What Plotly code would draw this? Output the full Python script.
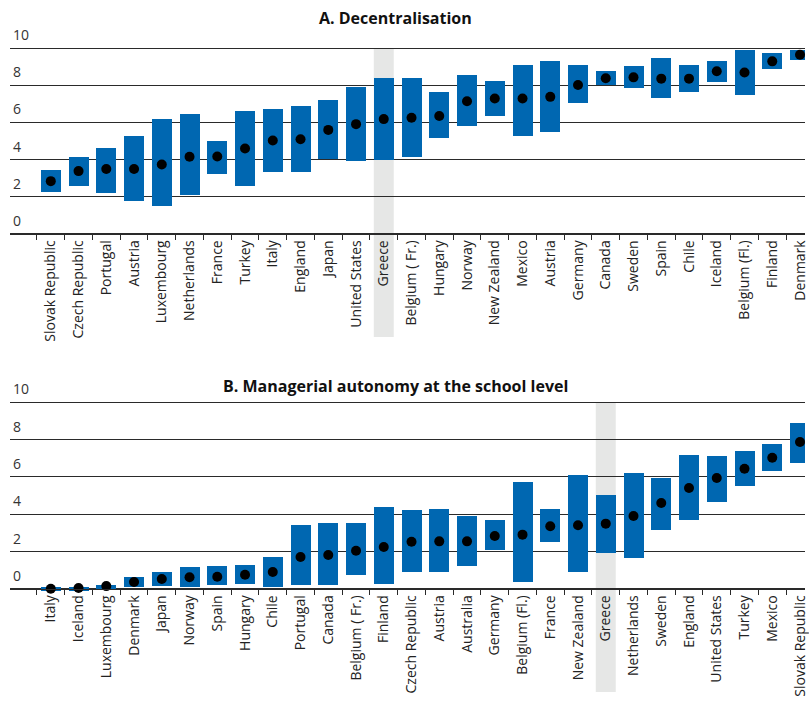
import plotly.graph_objects as go

# Panel A: decentralisation index, min / max range and mean by country
countries_a = ["Slovak Republic", "Czech Republic", "Portugal", "Austria", "Luxembourg",
               "Netherlands", "France", "Turkey", "Italy", "England", "Japan",
               "United States", "Greece", "Belgium ( Fr.)", "Hungary", "Norway",
               "New Zealand", "Mexico", "Austria", "Germany", "Canada", "Sweden",
               "Spain", "Chile", "Iceland", "Belgium (Fl.)", "Finland", "Denmark"]
low_a = [2.20, 2.53, 2.15, 1.72, 1.45, 2.04, 3.17, 2.53, 3.28, 3.28, 3.98, 3.87, 3.92,
         4.09, 5.11, 5.75, 6.34, 5.22, 5.43, 6.99, 7.96, 7.80, 7.26, 7.63, 8.17, 7.47,
         8.87, 9.35]
high_a = [3.42, 4.12, 4.61, 5.25, 6.17, 6.44, 4.98, 6.60, 6.70, 6.87, 7.19, 7.89, 8.37,
          8.37, 7.62, 8.53, 8.21, 9.07, 9.28, 9.07, 8.75, 9.02, 9.44, 9.07, 9.28, 9.88,
          9.72, 9.88]
mean_a = [2.83, 3.37, 3.48, 3.48, 3.73, 4.14, 4.16, 4.59, 5.02, 5.09, 5.59, 5.90, 6.17,
          6.24, 6.34, 7.13, 7.28, 7.28, 7.37, 8.01, 8.37, 8.42, 8.35, 8.35, 8.75, 8.68,
          9.28, 9.64]

# Panel B: managerial autonomy at the school level
countries_b = ["Italy", "Iceland", "Luxembourg", "Denmark", "Japan", "Norway", "Spain",
               "Hungary", "Chile", "Portugal", "Canada", "Belgium ( Fr.)", "Finland",
               "Czech Republic", "Austria", "Australia", "Germany", "Belgium (Fl.)",
               "France", "New Zealand", "Greece", "Netherlands", "Sweden", "England",
               "United States", "Turkey", "Mexico", "Slovak Republic"]
low_b = [-0.10, -0.10, 0.00, 0.09, 0.14, 0.09, 0.20, 0.25, 0.09, 0.20, 0.20, 0.73, 0.25,
         0.91, 0.91, 1.24, 2.09, 0.38, 2.52, 0.91, 1.93, 1.66, 3.17, 3.70, 4.67, 5.53,
         6.33, 6.76]
high_b = [0.10, 0.10, 0.20, 0.63, 0.90, 1.16, 1.22, 1.27, 1.70, 3.42, 3.52, 3.52, 4.38,
          4.22, 4.28, 3.90, 3.69, 5.72, 4.28, 6.10, 5.03, 6.21, 5.96, 7.17, 7.12, 7.40,
          7.76, 8.89]
mean_b = [0.00, 0.04, 0.14, 0.36, 0.52, 0.61, 0.64, 0.75, 0.90, 1.70, 1.81, 2.04, 2.24,
          2.52, 2.54, 2.54, 2.83, 2.90, 3.35, 3.40, 3.49, 3.90, 4.60, 5.40, 5.94, 6.44,
          7.03, 7.87]

titles = ["A. Decentralisation", "B. Managerial autonomy at the school level"]
highlight = "Greece"
y_ticks = [0, 2, 4, 6, 8, 10]

BLUE = "#0067b1"
BAND = "#e6e7e6"
GRID = "#2a2a2a"
FONT = "Open Sans"
W, H = 809, 708
Y_MIN, Y_MAX = -0.35, 11.7
X_MIN, X_MAX = -1.47, 27.18
BAR_W = 0.72

# vertical pixel layout of the two panels: (line at 10, zero line, band bottom, title y)
panels = [(48.0, 233.7, 337.0, 18.0), (402.3, 588.7, 692.0, 386.0)]

fig = go.Figure()
datasets = [(countries_a, low_a, high_a, mean_a), (countries_b, low_b, high_b, mean_b)]

for i, ((names, lo, hi, mu), (top_px, zero_px, band_px, title_px)) in enumerate(zip(datasets, panels)):
    xa = "x" if i == 0 else "x2"
    ya = "y" if i == 0 else "y2"
    pos = list(range(len(names)))
    fig.add_trace(go.Bar(x=pos, y=[h - l for l, h in zip(lo, hi)], base=lo, width=BAR_W,
                         marker=dict(color=BLUE, line=dict(width=0)),
                         xaxis=xa, yaxis=ya, showlegend=False, hoverinfo="skip"))
    fig.add_trace(go.Scatter(x=pos, y=mu, mode="markers",
                             marker=dict(color="black", size=10),
                             xaxis=xa, yaxis=ya, showlegend=False, cliponaxis=False))

    px_per_unit = (zero_px - top_px) / 10.0
    bottom_px = zero_px - Y_MIN * px_per_unit
    d0 = 1 - bottom_px / H
    d1 = 1 - (top_px - (Y_MAX - 10) * px_per_unit) / H
    zero_frac = 1 - zero_px / H

    ykey = "yaxis" if i == 0 else "yaxis2"
    xkey = "xaxis" if i == 0 else "xaxis2"
    fig.update_layout(**{
        ykey: dict(domain=[d0, d1], range=[Y_MIN, Y_MAX], tickvals=y_ticks,
                   showgrid=True, gridcolor=GRID, gridwidth=1, zeroline=False,
                   showline=False, ticks="", ticklabelposition="inside top",
                   ticklabelshift=-3,
                   tickfont=dict(family=FONT, size=14, color="#333"),
                   anchor=xa, fixedrange=True),
        xkey: dict(range=[X_MIN, X_MAX], tickvals=pos, ticktext=names, tickangle=-90,
                   showgrid=False, zeroline=False, showline=True, linecolor=GRID,
                   linewidth=1, ticks="", ticklabeloverflow="allow",
                   minor=dict(ticks="outside", tick0=0.5, dtick=1, ticklen=5,
                              tickcolor=GRID, tickwidth=1),
                   tickfont=dict(family=FONT, size=14, color="#222"),
                   anchor="free", position=zero_frac, fixedrange=True),
    })

    # highlighted country band running from the top line down through its label
    g = names.index(highlight)
    fig.add_shape(type="rect", xref=xa, yref="paper",
                  x0=g - BAR_W / 2, x1=g + BAR_W / 2,
                  y0=1 - band_px / H, y1=1 - top_px / H,
                  fillcolor=BAND, line=dict(width=0), layer="below")

    fig.add_annotation(text=f"<b>{titles[i]}</b>", xref="paper", yref="paper",
                       x=(397 - 10) / (W - 10), y=1 - title_px / H,
                       xanchor="center", yanchor="middle", showarrow=False,
                       font=dict(family=FONT, size=16, color="#111"))

fig.update_layout(width=W, height=H, margin=dict(l=10, r=0, t=0, b=0),
                  plot_bgcolor="white", paper_bgcolor="white", bargap=0)

fig.write_html("out.html")
